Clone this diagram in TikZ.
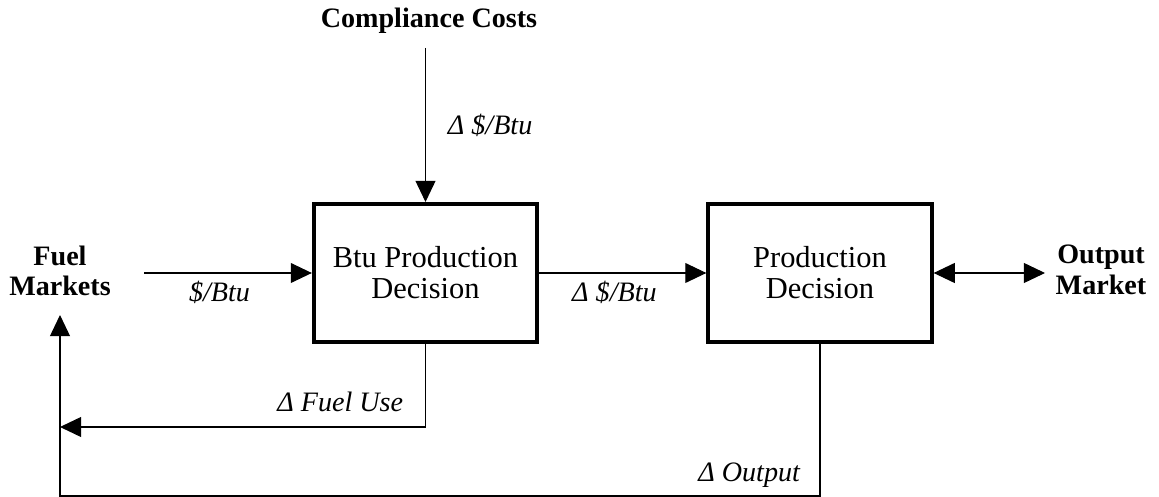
\documentclass[tikz,border=0pt]{standalone}
\usepackage{fontspec}
\setmainfont{Liberation Serif}
\usetikzlibrary{arrows.meta,positioning}
\tikzset{%
decbox/.style={rectangle, draw, line width=1.7pt, minimum width=3.35cm, minimum height=2.07cm, align=center, font=\fontsize{13}{13.3}\selectfont},
hdr/.style={align=center, font=\fontsize{12}{13}\selectfont\bfseries},
lbl/.style={font=\fontsize{12}{13}\selectfont\itshape},
pt/.style={draw, line width=0.45pt, -{Triangle[length=9pt,width=8.5pt]}},
dpt/.style={pt, {Triangle[length=9pt,width=8.5pt]}-{Triangle[length=9pt,width=8.5pt]}}
}
\begin{document}
\begin{tikzpicture}[x=0.015cm, y=-0.015cm]
		\useasboundingbox (0,0) rectangle (1159,497);
		\node[decbox] (btu) at (425.5,273) {Btu Production\\Decision};
		\node[decbox] (prod) at (820,273) {Production\\Decision};
		\node[hdr, anchor=base] (cc) at (429,28) {Compliance Costs};
		\node[hdr] (fuel) at (60,271) {Fuel\\Markets};
		\node[hdr] (out) at (1101,270) {Output\\Market};
		\coordinate (ccin) at (425.5,48);
		\coordinate (fuelin) at (144,273);
		\coordinate (outin) at (1045,273);
		\coordinate (fueluse) at (60,427);
		\coordinate (outbot) at (60,496);
		\coordinate (fuelup) at (60,315);
		
		\draw[pt] (ccin) 	-- 	node [lbl, right=6pt] (dcc) 	{Δ \$/Btu} (btu.north);
		\draw[pt] (fuelin) 	-- 	node [lbl, below, pos=0.45] (pb) 	{\$/Btu} (btu.west);
		\draw[pt] (btu.east) 	-- 	node [lbl, below, pos=0.45] (dpb) 	{Δ \$/Btu} (prod.west);
		\draw[dpt] (prod.east) 	-- 	(outin);
		\draw[pt] (btu.south) 	|- node [lbl, above left=3pt and 6pt] (dfu) 	{Δ Fuel Use} (fueluse);
		\draw[pt] (prod.south) 	|- node [lbl, above left=0pt and 5pt] (dout) 	{Δ Output} (outbot) -- (fuelup);
	\end{tikzpicture}
\end{document}
